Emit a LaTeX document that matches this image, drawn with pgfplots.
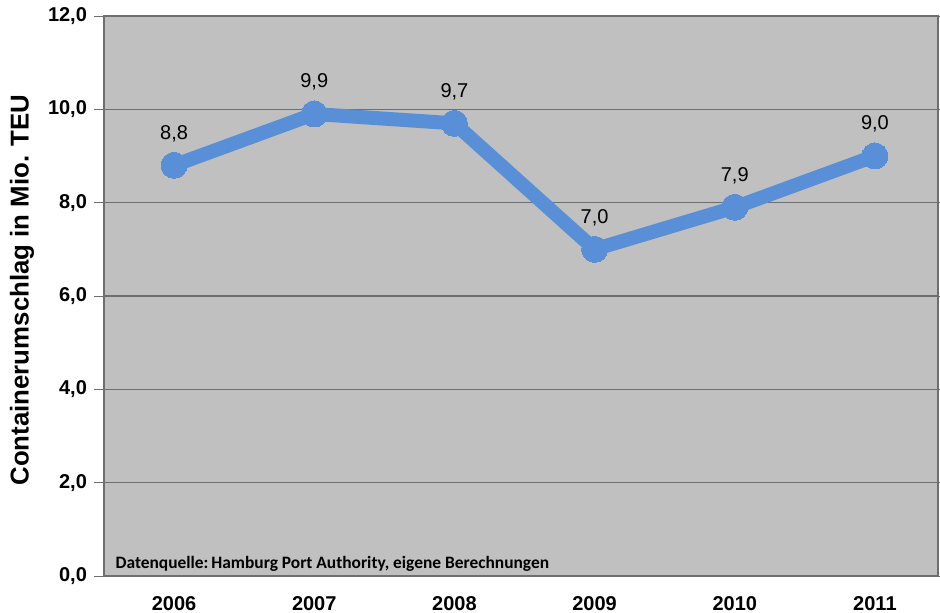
\documentclass[border=0pt]{standalone}
\usepackage{pgfplots}
\pgfplotsset{compat=1.18}
\usepackage{fontspec}
\setmainfont{Liberation Sans}
\newfontfamily\srcfont{Carlito}
\definecolor{bg}{RGB}{192,192,192}
\definecolor{ln}{RGB}{88,143,214}
\definecolor{gridc}{RGB}{110,110,110}
\begin{document}
\begin{tikzpicture}
\useasboundingbox (0,0) rectangle (470pt,306.5pt);
\begin{axis}[
  at={(52pt,18.5pt)}, anchor=south west,
  scale only axis, width=417pt, height=280pt,
  xmin=-0.5, xmax=5.45, ymin=0, ymax=12,
  axis background/.style={fill=bg},
  axis line style={draw=gridc, line width=0.6pt},
  ytick={0,2,...,12},
  yticklabel style={font=\fontsize{10}{12}\selectfont\bfseries},
  yticklabels={{0,0},{2,0},{4,0},{6,0},{8,0},{10,0},{12,0}},
  xtick={0,...,5},
  xticklabels={2006,2007,2008,2009,2010,2011},
  xticklabel style={font=\fontsize{10}{12}\selectfont\bfseries, yshift=-6.5pt},
  major x tick style={draw=none},
  extra x ticks={-0.5,0.5,1.5,2.5,3.5,4.5},
  extra x tick labels={},
  extra x tick style={tick style={draw=gridc, line width=0.5pt}, major tick length=5pt, tick align=outside, grid=none},
  ytick align=outside, major tick length=5pt,
  ymajorgrids, grid style={draw=gridc, line width=0.6pt},
  tick style={draw=gridc},
  ylabel={Containerumschlag in Mio. TEU},
  every axis y label/.style={at={(rel axis cs:0,0.5)}, rotate=90, anchor=center, yshift=41pt, xshift=3pt, font=\fontsize{12.9}{15}\selectfont\bfseries},
  clip=false,
]
\addplot[ln, line width=7pt, mark=*, mark size=6.5pt, mark options={fill=ln, draw=ln, line width=0pt},
  nodes near coords, point meta=explicit symbolic,
  every node near coord/.style={anchor=center, yshift=16pt, font=\fontsize{10}{12}\selectfont, text=black}]
  table[meta=lab] {
x y lab
0 8.8 {8,8}
1 9.9 {9,9}
2 9.7 {9,7}
3 7.0 {7,0}
4 7.9 {7,9}
5 9.0 {9,0}
};
\node[anchor=base west, font=\srcfont\bfseries\fontsize{8.7}{10}\selectfont, inner sep=0pt] at (axis cs:-0.42,0.17) {Datenquelle:\,Hamburg Port Authority, eigene Berechnungen};
\end{axis}
\end{tikzpicture}
\end{document}
